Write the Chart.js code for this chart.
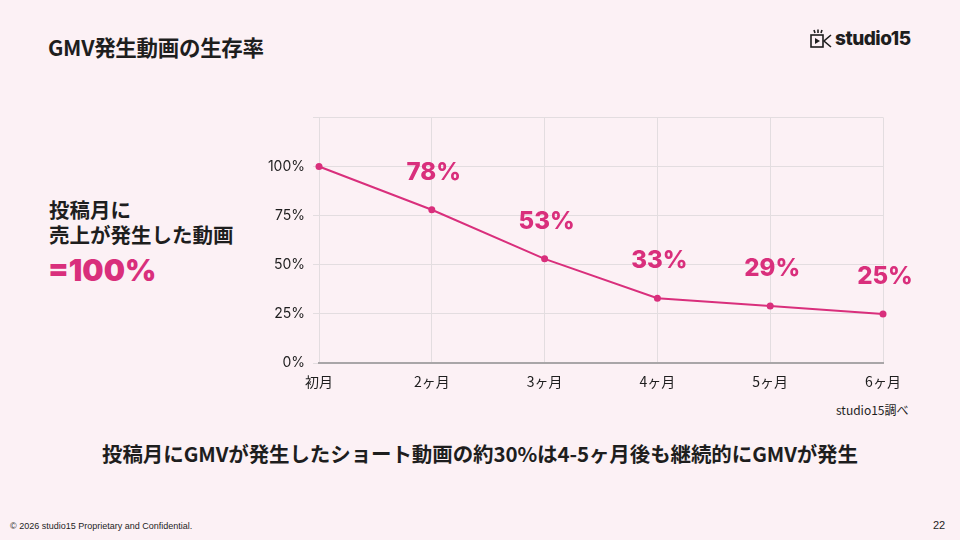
<!DOCTYPE html>
<html lang="ja">
<head>
<meta charset="utf-8">
<script src="https://cdn.jsdelivr.net/npm/chart.js@4.4.1/dist/chart.umd.min.js"></script>
<style>
  html, body { margin: 0; padding: 0; }
  body {
    width: 960px; height: 540px; position: relative; overflow: hidden;
    background: #fcf1f5;
    font-family: "Noto Sans CJK JP", "Noto Sans", sans-serif;
    color: #1e1e1e;
  }
  .abs { position: absolute; white-space: nowrap; }
  #title { left: 48px; top: 31px; font-size: 21.5px; font-weight: 700; letter-spacing: -0.3px; }
  #logo { left: 810px; top: 27px; font-size: 19px; font-weight: 800; font-family: "Inter", "Noto Sans", sans-serif; letter-spacing: -0.5px; display: flex; align-items: center; gap: 3px; }
  #lead { left: 49px; top: 197px; font-size: 20.5px; font-weight: 700; line-height: 25px; }
  #big { left: 48px; top: 252px; font-size: 30px; font-weight: 900; color: #d92f7c; font-family: "Inter", "Noto Sans", sans-serif; }
  #src { left: 836px; top: 401px; font-size: 12px; }
  #msg { left: 0; width: 960px; top: 438px; text-align: center; font-size: 20.5px; font-weight: 700; letter-spacing: -0.1px; }
  #foot { left: 10px; top: 521px; font-size: 9px; font-family: "Liberation Sans", sans-serif; }
  #page { left: 933px; top: 519px; font-size: 11px; font-family: "Liberation Sans", sans-serif; }
  #wrap { position: absolute; left: 255px; top: 101px; width: 660px; height: 299px; }
</style>
</head>
<body>
<div class="abs" id="title">GMV発生動画の生存率</div>
<div class="abs" id="logo">
  <svg width="22" height="20" viewBox="0 0 22 20">
    <g stroke="#1e1e1e" stroke-width="1.6" fill="none">
      <line x1="4" y1="1" x2="5" y2="4"/><line x1="8" y1="0.5" x2="8" y2="4"/><line x1="12" y1="1" x2="11" y2="4"/>
      <rect x="1" y="6" width="12" height="12"/>
      <polyline points="21,6 14,12 21,18"/>
    </g>
    <polygon points="5,9 10,12 5,15" fill="#1e1e1e"/>
  </svg>
  <span>studio15</span>
</div>
<div class="abs" id="lead">投稿月に<br>売上が発生した動画</div>
<div class="abs" id="big">=100%</div>
<div id="wrap"><canvas id="survival-chart"></canvas></div>
<div class="abs" id="src">studio15調べ</div>
<div class="abs" id="msg">投稿月にGMVが発生したショート動画の約30%は4-5ヶ月後も継続的にGMVが発生</div>
<div class="abs" id="foot">© 2026 studio15 Proprietary and Confidential.</div>
<div class="abs" id="page">22</div>

<script>
// Chart data
const months = ['初月', '2ヶ月', '3ヶ月', '4ヶ月', '5ヶ月', '6ヶ月'];
const survivalRate = [100, 78, 53, 33, 29, 25];
const shownLabels = ['', '78%', '53%', '33%', '29%', '25%'];
const yTicks = [0, 25, 50, 75, 100];

const pink = '#d92f7c';

// Draw the big value labels above each point
const valueLabels = {
    id: 'valueLabels',
    afterDatasetsDraw(chart) {
        const ctx = chart.ctx;
        const meta = chart.getDatasetMeta(0);
        ctx.save();
        ctx.fillStyle = pink;
        ctx.font = '800 24px "Inter", "Noto Sans", sans-serif';
        ctx.textAlign = 'center';
        ctx.textBaseline = 'middle';
        meta.data.forEach((pt, i) => {
            if (!shownLabels[i]) return;
            ctx.fillText(shownLabels[i], pt.x + 2, pt.y - 37);
        });
        ctx.restore();
    }
};

new Chart(document.getElementById('survival-chart'), {
    type: 'line',
    data: {
        labels: months,
        datasets: [{
            data: survivalRate,
            borderColor: pink,
            backgroundColor: pink,
            borderWidth: 2,
            pointRadius: 3.5,
            pointBackgroundColor: pink,
            pointBorderWidth: 0,
            tension: 0
        }]
    },
    options: {
        responsive: true,
        maintainAspectRatio: false,
        animation: false,
        layout: { padding: { top: 8, right: 32, left: 0, bottom: 0 } },
        plugins: {
            legend: { display: false },
            tooltip: { enabled: false }
        },
        scales: {
            x: {
                offset: false,
                grid: { color: '#e3dde0', lineWidth: 1, drawTicks: false },
                border: { color: '#a9a6a8', width: 2 },
                ticks: {
                    color: '#1e1e1e',
                    padding: 10,
                    font: { family: '"Noto Sans CJK JP", sans-serif', size: 14 }
                },
                afterFit(scale) { scale.height = 37; }
            },
            y: {
                min: 0,
                max: 125,
                afterBuildTicks(scale) {
                    scale.ticks = yTicks.concat([125]).map(v => ({ value: v }));
                },
                grid: { color: '#e3dde0', lineWidth: 1, tickLength: 6 },
                border: { display: false },
                ticks: {
                    color: '#1e1e1e',
                    padding: 8,
                    font: { family: '"Inter", "Noto Sans", sans-serif', size: 14 },
                    callback: v => (yTicks.includes(v) ? v + '%' : '')
                },
                afterFit(scale) { scale.width = 64; }
            }
        }
    },
    plugins: [valueLabels]
});
</script>
</body>
</html>
